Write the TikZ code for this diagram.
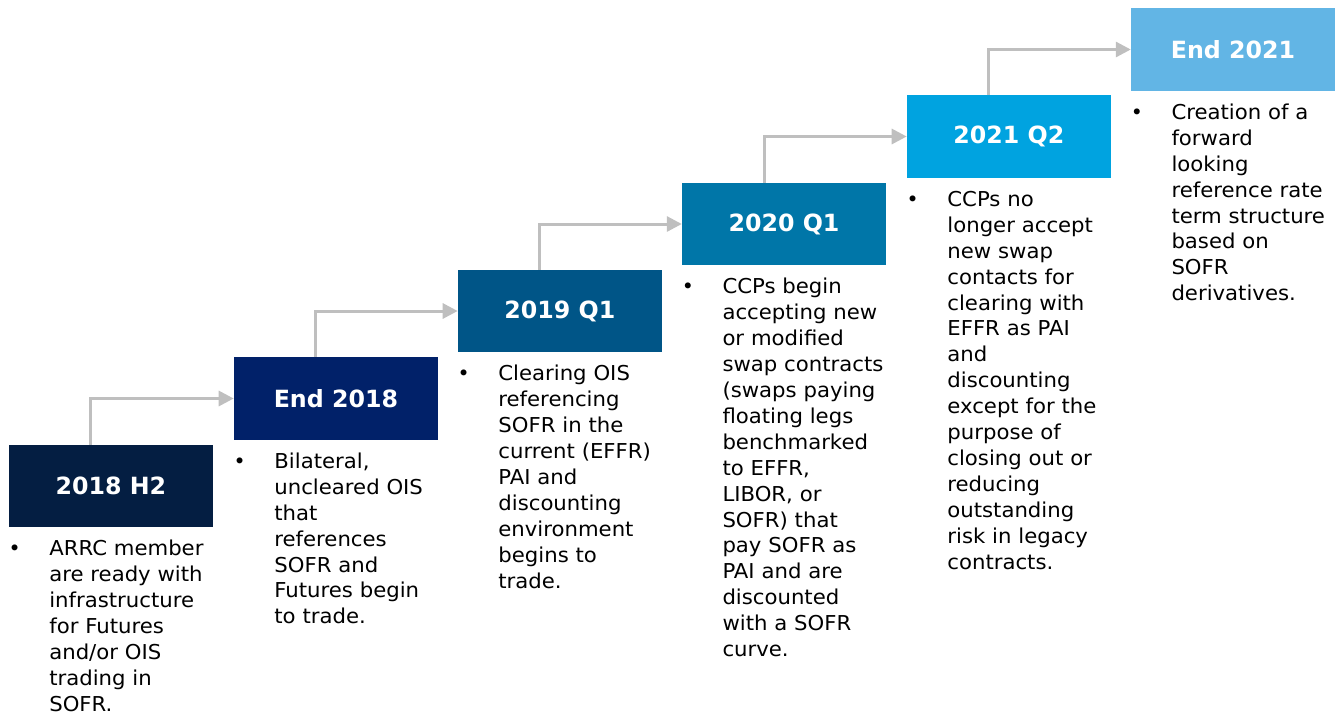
\documentclass[tikz,border=0pt]{standalone}
\usepackage{fontspec}
\setmainfont{DejaVu Sans}
\newfontfamily\bodyfont[FakeStretch=1.035]{DejaVu Sans}
\usetikzlibrary{arrows.meta}

\definecolor{navyA}{HTML}{041E42}
\definecolor{navyB}{HTML}{012169}
\definecolor{blueC}{HTML}{005587}
\definecolor{blueD}{HTML}{0076A8}
\definecolor{blueE}{HTML}{00A3E0}
\definecolor{blueF}{HTML}{62B5E5}
\definecolor{linkgray}{HTML}{BFBFBF}

\begin{document}
\begin{tikzpicture}[x=1pt,y=-1pt,
    stage/.style={minimum width=204pt, minimum height=82.5pt, inner sep=0pt,
        text=white, font=\fontsize{23.7}{28}\selectfont\bfseries},
    note/.style={anchor=base west, inner sep=0pt, text width=200pt, align=left,
        font=\bodyfont\fontsize{20.5}{25.9}\selectfont},
    dot/.style={anchor=base, inner sep=0pt, font=\fontsize{20.5}{26}\selectfont},
    link/.style={draw=linkgray, line width=3pt, -{Triangle[length=15pt,width=15pt]}}]

    \useasboundingbox (0,0) rectangle (1340,713);

    % the six stages
    \node[stage, fill=navyA] (h2018) at (110.8,486) {2018 H2};
    \node[stage, fill=navyB] (e2018) at (335.9,398.5) {End 2018};
    \node[stage, fill=blueC] (q2019) at (559.9,311) {2019 Q1};
    \node[stage, fill=blueD] (q2020) at (784,224) {2020 Q1};
    \node[stage, fill=blueE] (q2021) at (1008.9,136.5) {2021 Q2};
    \node[stage, fill=blueF] (e2021) at (1233,49.5) {End 2021};

    % steps
    \draw[link] ([xshift=-20pt]h2018.north) |- (e2018.west);
    \draw[link] ([xshift=-20pt]e2018.north) |- (q2019.west);
    \draw[link] ([xshift=-20pt]q2019.north) |- (q2020.west);
    \draw[link] ([xshift=-20pt]q2020.north) |- (q2021.west);
    \draw[link] ([xshift=-20pt]q2021.north) |- (e2021.west);

    % bullets under each stage
    \node[dot] (h2018dot) at ([xshift=6pt,yshift=-28.5pt]h2018.south west) {•};
    \node[note] (h2018txt) at ([xshift=40.5pt,yshift=-28.5pt]h2018.south west)
        {ARRC member\\are ready with\\infrastructure\\for Futures\\and/or OIS\\trading in\\SOFR.};

    \node[dot] (e2018dot) at ([xshift=6pt,yshift=-28.5pt]e2018.south west) {•};
    \node[note] (e2018txt) at ([xshift=40.5pt,yshift=-28.5pt]e2018.south west)
        {Bilateral,\\uncleared OIS\\that\\references\\SOFR and\\Futures begin\\to trade.};

    \node[dot] (q2019dot) at ([xshift=6pt,yshift=-28.5pt]q2019.south west) {•};
    \node[note] (q2019txt) at ([xshift=40.5pt,yshift=-28.5pt]q2019.south west)
        {Clearing OIS\\referencing\\SOFR in the\\current (EFFR)\\PAI and\\discounting\\environment\\begins to\\trade.};

    \node[dot] (q2020dot) at ([xshift=6pt,yshift=-28.5pt]q2020.south west) {•};
    \node[note] (q2020txt) at ([xshift=40.5pt,yshift=-28.5pt]q2020.south west)
        {CCPs begin\\accepting new\\or modified\\swap contracts\\(swaps paying\\floating legs\\benchmarked\\to EFFR,\\LIBOR, or\\SOFR) that\\pay SOFR as\\PAI and are\\discounted\\with a SOFR\\curve.};

    \node[dot] (q2021dot) at ([xshift=6pt,yshift=-28.5pt]q2021.south west) {•};
    \node[note] (q2021txt) at ([xshift=40.5pt,yshift=-28.5pt]q2021.south west)
        {CCPs no\\longer accept\\new swap\\contacts for\\clearing with\\EFFR as PAI\\and\\discounting\\except for the\\purpose of\\closing out or\\reducing\\outstanding\\risk in legacy\\contracts.};

    \node[dot] (e2021dot) at ([xshift=6pt,yshift=-28.5pt]e2021.south west) {•};
    \node[note] (e2021txt) at ([xshift=40.5pt,yshift=-28.5pt]e2021.south west)
        {Creation of a\\forward\\looking\\reference rate\\term structure\\based on\\SOFR\\derivatives.};

\end{tikzpicture}
\end{document}
